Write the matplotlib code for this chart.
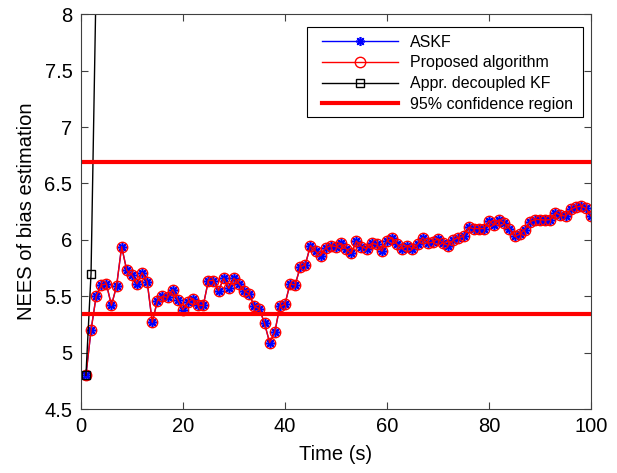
import numpy as np
import matplotlib
matplotlib.use('Agg')
import matplotlib.pyplot as plt
from matplotlib.patches import Rectangle

plt.rcParams['font.family'] = ['Liberation Sans', 'DejaVu Sans']

# datos
tiempo = np.arange(1, 101)
nees_propuesto = [4.80, 5.20, 5.50, 5.60, 5.61, 5.42, 5.59, 5.94, 5.73, 5.69,
                  5.61, 5.71, 5.63, 5.27, 5.46, 5.50, 5.49, 5.56, 5.47, 5.38,
                  5.45, 5.48, 5.42, 5.42, 5.64, 5.64, 5.55, 5.66, 5.57, 5.66,
                  5.61, 5.55, 5.52, 5.41, 5.39, 5.26, 5.09, 5.18, 5.41, 5.43,
                  5.61, 5.60, 5.76, 5.78, 5.95, 5.90, 5.86, 5.93, 5.95, 5.94,
                  5.97, 5.92, 5.88, 5.99, 5.94, 5.92, 5.97, 5.96, 5.90, 5.99,
                  6.02, 5.96, 5.92, 5.95, 5.92, 5.96, 6.02, 5.97, 5.98, 6.01,
                  5.97, 5.95, 6.00, 6.02, 6.03, 6.11, 6.10, 6.10, 6.10, 6.17,
                  6.13, 6.18, 6.15, 6.10, 6.03, 6.05, 6.09, 6.16, 6.18, 6.18,
                  6.175, 6.18, 6.24, 6.22, 6.21, 6.27, 6.29, 6.30, 6.28, 6.21]
nees_askf = list(nees_propuesto)  # se superponen
tiempo_desacoplado = [1, 2, 3, 4, 5]
nees_desacoplado = [4.80, 5.70, 8.30, 11.0, 14.0]
limite_inf = 5.34  # region de confianza 95%
limite_sup = 6.69

fig = plt.figure(figsize=(6.17, 4.73), dpi=100)
ax = fig.add_axes([0.131, 0.135, 0.827, 0.835])

ax.plot(tiempo, nees_askf, color='blue', lw=1, marker=(8, 2, 0), ms=6.5, mew=1.2,
        label='ASKF')
ax.plot(tiempo, nees_propuesto, color='red', lw=1, marker='o', ms=7.5, mfc='none',
        mew=1, label='Proposed algorithm')
ax.plot(tiempo_desacoplado, nees_desacoplado, color='black', lw=1, marker='s', ms=6,
        mfc='none', mew=1, label='Appr. decoupled KF')
ax.plot([0, 100], [limite_sup, limite_sup], color='red', lw=3,
        label='95% confidence region')
ax.plot([0, 100], [limite_inf, limite_inf], color='red', lw=3)

ax.set_xlim(0, 100)
ax.set_ylim(4.5, 8)
ax.set_xticks(np.arange(0, 101, 20))
ax.set_yticks(np.arange(4.5, 8.01, 0.5))
ax.set_yticklabels(['4.5', '5', '5.5', '6', '6.5', '7', '7.5', '8'])
ax.tick_params(direction='in', top=True, right=True, labelsize=14.5, length=5,
               color='#404040', pad=6)
for s in ax.spines.values():
    s.set_color('#404040')
ax.set_xlabel('Time (s)', fontsize=14.5, labelpad=6)
ax.set_ylabel('NEES of bias estimation', fontsize=14.5, labelpad=6)

# caja de la leyenda (estilo MATLAB) y leyenda sin marco encima
caja = Rectangle((0.443, 0.739), 0.541, 0.228, transform=ax.transAxes,
                 facecolor='white', edgecolor='black', lw=0.8, zorder=4)
ax.add_patch(caja)
leg = ax.legend(loc='upper left', bbox_to_anchor=(0.472, 0.948), frameon=False,
                fontsize=11.5, handlelength=4.8, handletextpad=0.7,
                borderpad=0, borderaxespad=0, labelspacing=0.36)
leg.set_zorder(5)

plt.savefig('out.png', dpi=100)
